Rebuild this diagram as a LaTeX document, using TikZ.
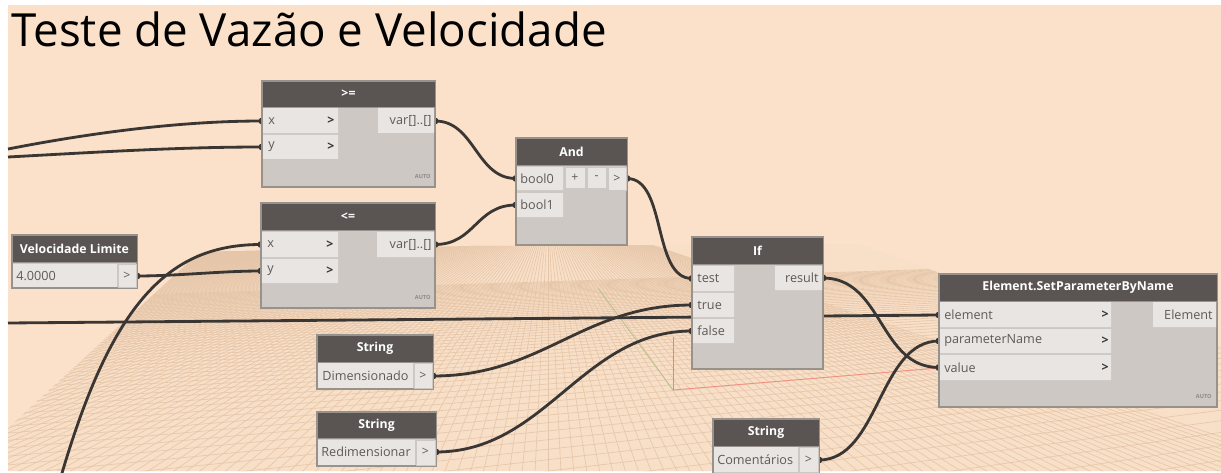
\documentclass[tikz,border=0pt]{standalone}
\usepackage{fontspec}
\setmainfont{Open Sans}
\usetikzlibrary{calc}
\definecolor{bgc}{HTML}{FBE1C9}
\definecolor{planec}{HTML}{F8DFC7}
\definecolor{gridc}{HTML}{E6C6A9}
\definecolor{hdrc}{HTML}{5A5553}
\definecolor{bodyc}{HTML}{CDC8C3}
\definecolor{portc}{HTML}{E8E5E2}
\definecolor{bordc}{HTML}{98928D}
\definecolor{wirec}{HTML}{3A3633}
\definecolor{txtc}{HTML}{5E5A57}
\definecolor{axg}{HTML}{B9C28C}
\definecolor{axp}{HTML}{B48CDA}
\definecolor{axr}{HTML}{F29080}
\pgfdeclarelayer{gridlayer}
\pgfdeclarelayer{wirelayer}
\pgfsetlayers{gridlayer,wirelayer,main}
\newcommand\wireh[3]{\draw[wire] (#1) .. controls ($(#1)+(#3,0)$) and ($(#2)-(#3,0)$) .. (#2);}
\begin{document}
\begin{tikzpicture}[x=0.02cm,y=-0.02cm,
 hdrbox/.style={fill=hdrc,draw=bordc,line width=0.4pt},
 bodybox/.style={fill=bodyc,draw=bordc,line width=0.6pt},
 portbox/.style={fill=portc},
 btnbox/.style={fill=portc,draw=bodyc,line width=0.3pt},
 hdrtxt/.style={text=white,font=\fontsize{7}{8}\selectfont\bfseries,inner sep=0pt},
 porttxt/.style={text=txtc,font=\fontsize{7.2}{8}\selectfont,inner sep=0pt,anchor=west},
 outtxt/.style={text=txtc,font=\fontsize{7.2}{8}\selectfont,inner sep=0pt,anchor=east},
 chev/.style={text=wirec,font=\fontsize{7}{8}\selectfont\bfseries,inner sep=0pt},
 gt/.style={text=txtc,font=\fontsize{7}{8}\selectfont,inner sep=0pt},
 autotxt/.style={text=txtc!70,font=\fontsize{3.2}{4}\selectfont\bfseries,inner sep=0pt,anchor=east},
 wire/.style={draw=wirec,line width=1.6pt},
 nub/.style={fill=wirec},
 gridline/.style={draw=gridc,line width=0.35pt},
]
\useasboundingbox (0,0) rectangle (1221,473);

\begin{pgfonlayer}{gridlayer}
\fill[white] (0,0) rectangle (1221,473);
\fill[bgc] (8,5) rectangle (1221,471);
\begin{scope}
\clip (8,428) -- (200,252) -- (470,246) -- (860,244) -- (940,273) -- (1221,345) -- (1221,471) -- (8,471) -- cycle;
\fill[planec] (0,0) rectangle (1221,473);
\foreach \k in {-160,...,60} \draw[gridline] (548,210) -- ({548+(\k)*26},736);
\foreach \n in {15,...,80} \draw[gridline] (2770,210) -- (-1000,{210+9743/\n});
\end{scope}
\draw[axg,line width=0.5pt] (598,288) -- (673,390);
\draw[axp,line width=0.5pt] (673,337) -- (673,390);
\draw[axr,line width=0.5pt] (673,390) -- (939,368);
\end{pgfonlayer}

% title
\node[anchor=base west,inner sep=0pt,font=\fontsize{26}{30}\selectfont,text=black] (title) at (11,47) {Teste de Vazão e Velocidade};

% >= node
\path[bodybox] (262,81) rectangle (435,187);
\path[hdrbox] (262,81) rectangle (435,107);
\node[hdrtxt] (ge) at (348.5,94) {>=};
\path[portbox] (263,108) rectangle (338,133) (263,135) rectangle (338,159) (378,108) rectangle (434,133);
\node[porttxt] (ge-xl) at (268,121) {x};
\node[porttxt] (ge-yl) at (268,147) {y};
\node[chev] (ge-xc) at (331,121) {>};
\node[chev] (ge-yc) at (331,147) {>};
\node[outtxt] (ge-ol) at (432,121) {var[]..[]};
\node[autotxt] (ge-a) at (431,176) {AUTO};
\coordinate (ge-x) at (262,121);
\coordinate (ge-y) at (262,147);
\coordinate (ge-o) at (435,121);

% <= node
\path[bodybox] (261,203) rectangle (435,308);
\path[hdrbox] (261,203) rectangle (435,230);
\node[hdrtxt] (le) at (348,216.5) {<=};
\path[portbox] (262,232) rectangle (338,257) (262,259) rectangle (338,283) (377,232) rectangle (434,257);
\node[porttxt] (le-xl) at (267,244.5) {x};
\node[porttxt] (le-yl) at (267,271) {y};
\node[chev] (le-xc) at (330,244.5) {>};
\node[chev] (le-yc) at (330,271) {>};
\node[outtxt] (le-ol) at (432,244.5) {var[]..[]};
\node[autotxt] (le-a) at (431,297) {AUTO};
\coordinate (le-x) at (261,244.5);
\coordinate (le-y) at (261,271);
\coordinate (le-o) at (435,244.5);

% Velocidade Limite
\path[bodybox] (12,235) rectangle (137,288);
\path[hdrbox] (12,235) rectangle (137,262);
\node[hdrtxt] (vl) at (74.5,248.5) {Velocidade Limite};
\path[portbox] (13,264) rectangle (117,287);
\path[btnbox] (118,264) rectangle (136,287);
\node[porttxt] (vl-val) at (16,276) {4.0000};
\node[gt] (vl-gt) at (127,276) {>};
\coordinate (vl-o) at (137,276);

% And node
\path[bodybox] (516,138) rectangle (627,245);
\path[hdrbox] (516,138) rectangle (627,165);
\node[hdrtxt] (and) at (571.5,151.5) {And};
\path[portbox] (517,167) rectangle (563,190) (517,193) rectangle (563,217);
\path[btnbox] (565,167) rectangle (585,188) (587,167) rectangle (606,188) (608,167) rectangle (626,190);
\node[porttxt] (and-b0l) at (520,178.5) {bool0};
\node[porttxt] (and-b1l) at (520,205) {bool1};
\node[gt] (and-p) at (575,177.5) {+};
\node[gt] (and-m) at (596.5,177.5) {-};
\node[gt] (and-g) at (617,178.5) {>};
\coordinate (and-b0) at (516,178.5);
\coordinate (and-b1) at (516,205);
\coordinate (and-o) at (627,178.5);

% If node
\path[bodybox] (692,237) rectangle (823,369);
\path[hdrbox] (692,237) rectangle (823,264);
\node[hdrtxt] (if) at (757.5,250.5) {If};
\path[portbox] (693,266) rectangle (734,291) (693,293) rectangle (734,317) (693,319) rectangle (734,343) (775,266) rectangle (822,290);
\node[porttxt] (if-tl) at (697,278.5) {test};
\node[porttxt] (if-trl) at (697,305) {true};
\node[porttxt] (if-fl) at (697,331) {false};
\node[outtxt] (if-ol) at (819,278) {result};
\coordinate (if-t) at (692,278.5);
\coordinate (if-tr) at (692,305);
\coordinate (if-f) at (692,331);
\coordinate (if-o) at (823,278);

% Element.SetParameterByName
\path[bodybox] (939,274) rectangle (1217,407);
\path[hdrbox] (939,274) rectangle (1217,301);
\node[hdrtxt] (el) at (1078,287.5) {Element.SetParameterByName};
\path[portbox] (940,302) rectangle (1111,327) (940,329) rectangle (1111,353) (940,355) rectangle (1111,380) (1153,302) rectangle (1216,327);
\node[porttxt] (el-el) at (944,315) {element};
\node[porttxt] (el-pl) at (944,341) {parameterName};
\node[porttxt] (el-vl) at (944,367.5) {value};
\node[chev] (el-ec) at (1105,315) {>};
\node[chev] (el-pc) at (1105,341) {>};
\node[chev] (el-vc) at (1105,367.5) {>};
\node[outtxt] (el-ol) at (1213,315) {Element};
\node[autotxt] (el-a) at (1212,396) {AUTO};
\coordinate (el-e) at (939,315);
\coordinate (el-p) at (939,341);
\coordinate (el-v) at (939,367.5);

% String Dimensionado
\path[bodybox] (317,335) rectangle (433,389);
\path[hdrbox] (317,335) rectangle (433,362);
\node[hdrtxt] (sd) at (375,348.5) {String};
\path[portbox] (318,363) rectangle (413,388);
\path[btnbox] (414,363) rectangle (432,388);
\node[porttxt] (sd-val) at (322,376) {Dimensionado};
\node[gt] (sd-gt) at (423,376) {>};
\coordinate (sd-o) at (433,376);

% String Redimensionar
\path[bodybox] (317,412) rectangle (436,466);
\path[hdrbox] (317,412) rectangle (436,438);
\node[hdrtxt] (sr) at (376.5,425) {String};
\path[portbox] (318,440) rectangle (415,465);
\path[btnbox] (416,440) rectangle (435,465);
\node[porttxt] (sr-val) at (321,452) {Redimensionar};
\node[gt] (sr-gt) at (425.5,452) {>};
\coordinate (sr-o) at (436,452);

% String Comentarios
\path[bodybox] (713,419) rectangle (819,480);
\path[hdrbox] (713,419) rectangle (819,446);
\node[hdrtxt] (sc) at (766,432.5) {String};
\path[portbox] (714,447) rectangle (798,472);
\path[btnbox] (799,447) rectangle (818,472);
\node[porttxt] (sc-val) at (717,460) {Comentários};
\node[gt] (sc-gt) at (808.5,460) {>};
\coordinate (sc-o) at (819,460);

% off-picture wire sources
\coordinate (offA) at (8,149);
\coordinate (offB) at (8,157);
\coordinate (offC) at (8,323);
\coordinate (offD) at (60,480);

\begin{pgfonlayer}{wirelayer}
\draw[wire] (offA) .. controls (90,133) and (180,121) .. (ge-x);
\draw[wire] (offB) .. controls (100,152) and (180,147) .. (ge-y);
\draw[wire] (offC) -- (el-e);
\draw[wire] (offD) .. controls (112,300) and (170,244.5) .. (le-x);
\wireh{vl-o}{le-y}{40}
\wireh{ge-o}{and-b0}{40}
\wireh{le-o}{and-b1}{40}
\wireh{and-o}{if-t}{40}
\wireh{sd-o}{if-tr}{110}
\wireh{sr-o}{if-f}{110}
\wireh{if-o}{el-v}{60}
\wireh{sc-o}{el-p}{60}
\foreach \p in {ge-x,ge-y,ge-o,le-x,le-y,le-o,vl-o,and-b0,and-b1,and-o,if-t,if-tr,if-f,if-o,el-e,el-p,el-v,sd-o,sr-o,sc-o}
  \fill[nub] (\p) circle (3.5);
\end{pgfonlayer}
\end{tikzpicture}
\end{document}
